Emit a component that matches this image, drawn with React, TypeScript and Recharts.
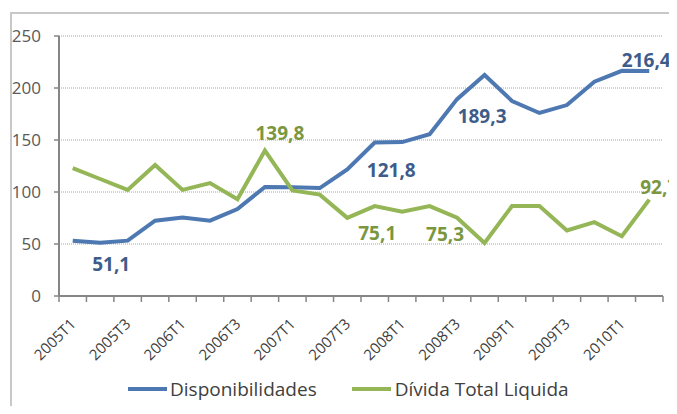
import React from "react";
import { LineChart, Line, CartesianGrid, XAxis, YAxis, Legend, LabelList } from "recharts";

const quarters = [
  "2005T1", "2005T2", "2005T3", "2005T4",
  "2006T1", "2006T2", "2006T3", "2006T4",
  "2007T1", "2007T2", "2007T3", "2007T4",
  "2008T1", "2008T2", "2008T3", "2008T4",
  "2009T1", "2009T2", "2009T3", "2009T4",
  "2010T1", "2010T2",
];

const disponibilidades = [
  53.2, 51.1, 53.2, 72.4, 75.5, 72.4, 83.6, 104.8, 104.6, 103.8, 121.8,
  147.6, 148, 155.6, 189.3, 212.5, 187.5, 176, 183.6, 206, 216.5, 216.4,
];

const dividaLiquida = [
  123, 112.5, 102, 126, 102, 108.6, 93, 139.8, 101.5, 97.5, 75.1,
  86.5, 81, 86.5, 75.3, 51, 86.5, 86.5, 63, 71, 57.5, 92.7,
];

const yTicks = [0, 50, 100, 150, 200, 250];

// which points carry a value label
const labeledBlue = [1, 10, 14, 21];
const labeledGreen = [7, 10, 14, 21];

const data = quarters.map((q, i) => ({
  q,
  disp: disponibilidades[i],
  div: dividaLiquida[i],
}));

const FONT = "'Open Sans', sans-serif";
const BLUE = "#4d78b2";
const GREEN = "#94b656";
const PLOT_LEFT = 59;
const PLOT_RIGHT = 663;
const HALF_BAND = (PLOT_RIGHT - PLOT_LEFT) / quarters.length / 2;

const blueOffsets: Record<number, [number, number]> = {
  1: [11, 21],
  10: [44, 1],
  14: [25, 17],
  21: [-3, -11],
};
const greenOffsets: Record<number, [number, number]> = {
  7: [15, -18],
  10: [30, 15],
  14: [-12, 16],
  21: [10, -13],
};

function makeLabel(labeled: number[], offsets: Record<number, [number, number]>, color: string) {
  return (props: any) => {
    const { x, y, index, value } = props;
    if (!labeled.includes(index)) return null;
    const [dx, dy] = offsets[index] || [0, -14];
    return (
      <text
        x={x + dx}
        y={y + dy}
        textAnchor="middle"
        dominantBaseline="central"
        fontFamily={FONT}
        fontSize={19}
        fontWeight={700}
        fill={color}
      >
        {String(value).replace(".", ",")}
      </text>
    );
  };
}

function QuarterTick(props: any) {
  const { x, payload, index } = props;
  const last = index === quarters.length - 1;
  return (
    <g>
      <line x1={x - HALF_BAND} y1={296} x2={x - HALF_BAND} y2={302} stroke="#868686" strokeWidth={1.5} />
      {last && <line x1={x + HALF_BAND} y1={296} x2={x + HALF_BAND} y2={302} stroke="#868686" strokeWidth={1.5} />}
      {index % 2 === 0 && (
        <text
          x={x + 4}
          y={325}
          transform={`rotate(-45, ${x + 4}, 325)`}
          textAnchor="end"
          fontFamily={FONT}
          fontSize={15}
          fill="#404040"
        >
          {payload.value}
        </text>
      )}
    </g>
  );
}

function LegendBox() {
  const swatch = (color: string) => (
    <span style={{ display: "inline-block", width: 39, height: 4, background: color }} />
  );
  return (
    <div
      style={{
        display: "flex",
        alignItems: "center",
        height: 26,
        paddingLeft: 128,
        fontFamily: FONT,
        fontSize: 19,
        color: "#404040",
        whiteSpace: "nowrap",
      }}
    >
      {swatch(BLUE)}
      <span style={{ marginLeft: 3 }}>Disponibilidades</span>
      <span style={{ marginLeft: 35, display: "flex", alignItems: "center" }}>{swatch(GREEN)}</span>
      <span style={{ marginLeft: 4 }}>Dívida Total Liquida</span>
    </div>
  );
}

export default function App() {
  return (
    <div style={{ position: "relative", width: 677, height: 414, margin: -8, overflow: "hidden", background: "#fff" }}>
      <div
        style={{
          position: "absolute",
          left: 10,
          top: 12,
          width: 720,
          height: 440,
          borderLeft: "2px solid #c8c8c8",
          borderTop: "2px solid #c8c8c8",
        }}
      />
      <div style={{ position: "absolute", left: 0, top: 0 }}>
        <LineChart width={677} height={414} data={data} margin={{ top: 36, right: 677 - PLOT_RIGHT, left: 0, bottom: 22 }}>
          <CartesianGrid vertical={false} stroke="#a6a6a6" strokeDasharray="1 1" />
          <XAxis
            dataKey="q"
            interval={0}
            height={70}
            padding={{ left: HALF_BAND, right: HALF_BAND }}
            tickLine={false}
            tickSize={0}
            tickMargin={0}
            axisLine={{ stroke: "#868686", strokeWidth: 2 }}
            tick={<QuarterTick />}
          />
          <YAxis
            width={PLOT_LEFT}
            domain={[0, 250]}
            ticks={yTicks}
            tickSize={5}
            tickMargin={13}
            axisLine={{ stroke: "#868686", strokeWidth: 2 }}
            tickLine={{ stroke: "#868686", strokeWidth: 1.5 }}
            tick={{ fontFamily: FONT, fontSize: 17, fill: "#595959" }}
          />
          <Legend
            verticalAlign="bottom"
            wrapperStyle={{ top: 376, left: 0 }}
            content={() => <LegendBox />}
          />
          <Line
            dataKey="disp"
            name="Disponibilidades"
            stroke={BLUE}
            strokeWidth={4}
            dot={false}
            type="linear"
            isAnimationActive={false}
          >
            <LabelList dataKey="disp" content={makeLabel(labeledBlue, blueOffsets, "#3e5c8a")} />
          </Line>
          <Line
            dataKey="div"
            name="Dívida Total Liquida"
            stroke={GREEN}
            strokeWidth={4}
            dot={false}
            type="linear"
            isAnimationActive={false}
          >
            <LabelList dataKey="div" content={makeLabel(labeledGreen, greenOffsets, "#7a973f")} />
          </Line>
        </LineChart>
      </div>
    </div>
  );
}
